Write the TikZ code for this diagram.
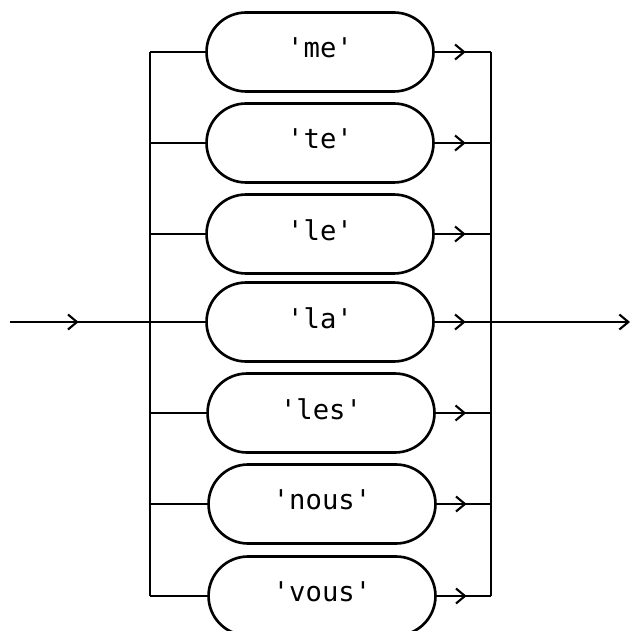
\documentclass[tikz,border=0pt]{standalone}
\usepackage{fontspec}
\setmonofont{DejaVu Sans Mono}
\usetikzlibrary{arrows.meta,positioning,shapes,decorations.markings}
\newcommand{\wrd}[1]{\raisebox{0.16cm}{\textquotesingle#1\textquotesingle}}
\tikzset{
  wordbox/.style={draw,line width=1.5pt,rounded corners=0.79cm,minimum width=4.54cm,minimum height=1.58cm,inner sep=0pt,font=\ttfamily\fontsize{15.5}{17}\selectfont},
  midarrow/.style={decoration={markings,mark=at position #1 with {\arrow{Straight Barb[length=1.8mm,width=3mm,line width=1.2pt]}}},postaction={decorate}},
  midarrow/.default=0.55
}
\begin{document}
\begin{tikzpicture}[x=0.02cm,y=-0.02cm,line width=1.2pt]
\useasboundingbox (0,0) rectangle (631,631);
\node[wordbox] (me) at (320,52) {\wrd{me}};
\node[wordbox] (te) at (320,143) {\wrd{te}};
\node[wordbox] (le) at (320,234) {\wrd{le}};
\node[wordbox] (la) at (320,322) {\wrd{la}};
\node[wordbox] (les) at (321,413) {\wrd{les}};
\node[wordbox] (nous) at (322,504) {\wrd{nous}};
\node[wordbox] (vous) at (322,596) {\wrd{vous}};
\coordinate (start) at (10,322);
\coordinate (end) at (630,322);
\coordinate (ltop) at (150,52);
\coordinate (lbot) at (150,596);
\coordinate (rtop) at (491,52);
\coordinate (rbot) at (491,596);
\draw (ltop)--(lbot) (rtop)--(rbot);
\draw[midarrow=0.49] (start)--(la.west -| ltop);
\draw (la.west -| ltop)--(la.west);
\draw (me.west -| ltop)--(me.west) (te.west -| ltop)--(te.west) (le.west -| ltop)--(le.west);
\draw (les.west -| ltop)--(les.west) (nous.west -| ltop)--(nous.west) (vous.west -| ltop)--(vous.west);
\draw[midarrow] (me.east)--(me.east -| rtop);
\draw[midarrow] (te.east)--(te.east -| rtop);
\draw[midarrow] (le.east)--(le.east -| rtop);
\draw[midarrow] (la.east)--(la.east -| rtop);
\draw[midarrow] (les.east)--(les.east -| rtop);
\draw[midarrow] (nous.east)--(nous.east -| rtop);
\draw[midarrow] (vous.east)--(vous.east -| rtop);
\draw[-{Straight Barb[length=1.8mm,width=3mm]}] (la.east -| rtop)--(end);
\end{tikzpicture}
\end{document}
